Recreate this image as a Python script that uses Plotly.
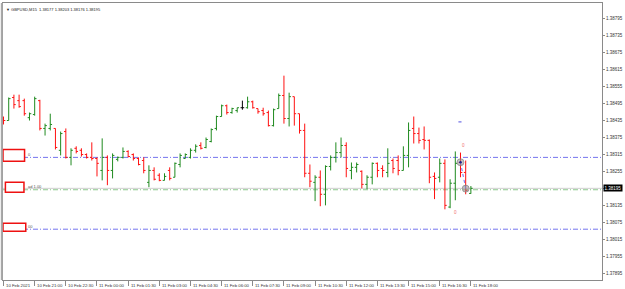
import plotly.graph_objects as go

# ---- data (GBPUSD M15, bars from 10 Feb 19:30 to 11 Feb 18:00) ----
opens = [1.38444, 1.38434, 1.38515, 1.38504, 1.38504, 1.38444, 1.38455, 1.38504, 1.38406, 1.38406,
         1.38406, 1.38329, 1.38395, 1.38304, 1.38336, 1.38329, 1.38314, 1.38304, 1.38300, 1.38258,
         1.38304, 1.38258, 1.38297, 1.38304, 1.38325, 1.38314, 1.38300, 1.38293, 1.38216, 1.38258,
         1.38241, 1.38223, 1.38258, 1.38234, 1.38279, 1.38300, 1.38304, 1.38329, 1.38346, 1.38339,
         1.38360, 1.38406, 1.38448, 1.38486, 1.38462, 1.38469, 1.38479, 1.38479, 1.38500, 1.38476,
         1.38469, 1.38462, 1.38416, 1.38476, 1.38522, 1.38441, 1.38518, 1.38458, 1.38399, 1.38248,
         1.38216, 1.38234, 1.38174, 1.38272, 1.38304, 1.38321, 1.38346, 1.38258, 1.38269, 1.38255,
         1.38209, 1.38234, 1.38283, 1.38265, 1.38251, 1.38293, 1.38293, 1.38258, 1.38311, 1.38406,
         1.38388, 1.38367, 1.38364, 1.38237, 1.38234, 1.38283, 1.38129, 1.38213, 1.38286, 1.38251,
         1.38177]
highs = [1.38448, 1.38515, 1.38525, 1.38525, 1.38511, 1.38462, 1.38518, 1.38507, 1.38423, 1.38458,
         1.38406, 1.38395, 1.38406, 1.38336, 1.38343, 1.38336, 1.38318, 1.38357, 1.38304, 1.38371,
         1.38311, 1.38318, 1.38307, 1.38339, 1.38329, 1.38318, 1.38304, 1.38304, 1.38276, 1.38269,
         1.38248, 1.38248, 1.38269, 1.38286, 1.38318, 1.38318, 1.38336, 1.38350, 1.38357, 1.38374,
         1.38406, 1.38451, 1.38490, 1.38490, 1.38479, 1.38479, 1.38504, 1.38518, 1.38504, 1.38476,
         1.38479, 1.38469, 1.38476, 1.38529, 1.38592, 1.38532, 1.38518, 1.38458, 1.38423, 1.38279,
         1.38241, 1.38258, 1.38276, 1.38311, 1.38357, 1.38374, 1.38357, 1.38286, 1.38286, 1.38258,
         1.38241, 1.38286, 1.38286, 1.38276, 1.38336, 1.38300, 1.38311, 1.38343, 1.38427, 1.38448,
         1.38409, 1.38413, 1.38367, 1.38251, 1.38300, 1.38297, 1.38227, 1.38325, 1.38321, 1.38293,
         1.38203]
lows = [1.38420, 1.38434, 1.38476, 1.38479, 1.38451, 1.38434, 1.38451, 1.38399, 1.38381, 1.38399,
        1.38332, 1.38311, 1.38300, 1.38276, 1.38318, 1.38307, 1.38300, 1.38293, 1.38237, 1.38223,
        1.38206, 1.38230, 1.38290, 1.38300, 1.38304, 1.38293, 1.38276, 1.38248, 1.38199, 1.38223,
        1.38220, 1.38223, 1.38223, 1.38234, 1.38269, 1.38300, 1.38300, 1.38321, 1.38332, 1.38336,
        1.38357, 1.38399, 1.38448, 1.38455, 1.38458, 1.38462, 1.38472, 1.38476, 1.38476, 1.38458,
        1.38451, 1.38413, 1.38413, 1.38476, 1.38423, 1.38413, 1.38416, 1.38388, 1.38234, 1.38199,
        1.38150, 1.38132, 1.38135, 1.38258, 1.38286, 1.38304, 1.38234, 1.38227, 1.38251, 1.38195,
        1.38192, 1.38209, 1.38234, 1.38234, 1.38234, 1.38248, 1.38241, 1.38258, 1.38269, 1.38353,
        1.38353, 1.38332, 1.38213, 1.38157, 1.38216, 1.38121, 1.38125, 1.38153, 1.38234, 1.38174,
        1.38176]
closes = [1.38434, 1.38511, 1.38490, 1.38483, 1.38458, 1.38458, 1.38511, 1.38406, 1.38416, 1.38420,
          1.38339, 1.38388, 1.38304, 1.38329, 1.38325, 1.38314, 1.38304, 1.38300, 1.38283, 1.38304,
          1.38258, 1.38311, 1.38304, 1.38325, 1.38307, 1.38300, 1.38279, 1.38258, 1.38258, 1.38227,
          1.38223, 1.38237, 1.38230, 1.38283, 1.38311, 1.38314, 1.38329, 1.38343, 1.38336, 1.38367,
          1.38402, 1.38448, 1.38486, 1.38462, 1.38476, 1.38479, 1.38479, 1.38500, 1.38479, 1.38465,
          1.38458, 1.38416, 1.38472, 1.38522, 1.38441, 1.38518, 1.38458, 1.38399, 1.38248, 1.38220,
          1.38234, 1.38174, 1.38272, 1.38304, 1.38321, 1.38346, 1.38265, 1.38269, 1.38279, 1.38209,
          1.38234, 1.38283, 1.38258, 1.38258, 1.38283, 1.38265, 1.38258, 1.38311, 1.38399, 1.38388,
          1.38364, 1.38364, 1.38234, 1.38230, 1.38283, 1.38135, 1.38213, 1.38283, 1.38251, 1.38188,
          1.38195]

time_tick_index = [0, 6, 12, 18, 24, 30, 36, 42, 48, 54, 60, 66, 72, 78, 84, 90]
time_tick_text = ["10 Feb 2021", "10 Feb 21:00", "10 Feb 22:30", "11 Feb 00:00", "11 Feb 01:30",
                  "11 Feb 03:00", "11 Feb 04:30", "11 Feb 06:00", "11 Feb 07:30", "11 Feb 09:00",
                  "11 Feb 10:30", "11 Feb 12:00", "11 Feb 13:30", "11 Feb 15:00", "11 Feb 16:30",
                  "11 Feb 18:00"]
price_ticks = [1.37895, 1.37955, 1.38015, 1.38075, 1.38135, 1.38195, 1.38255, 1.38315,
               1.38375, 1.38435, 1.38495, 1.38555, 1.38615, 1.38675, 1.38735, 1.38795]
price_tick_text = ["1.37895", "1.37955", "1.38015", "1.38075", "1.38135", "", "1.38255", "1.38315",
                   "1.38375", "1.38435", "1.38495", "1.38555", "1.38615", "1.38675", "1.38735", "1.38795"]

title_text = "GBPUSD,M15  1.38177 1.38203 1.38176 1.38195"
bid_price = 1.38195
level_prices = [1.38304, 1.38190, 1.38051]
level_labels = ["0", "ad 1.00", "00"]
trade_x = [88, 89]
trade_price = [1.38287, 1.38194]

FONT = "Liberation Sans"
n = len(opens)
xs = list(range(n))
norm = [i for i in xs if opens[i] != closes[i]]
doji = [i for i in xs if opens[i] == closes[i]]

fig = go.Figure()
fig.add_trace(go.Ohlc(
    x=norm, open=[opens[i] for i in norm], high=[highs[i] for i in norm],
    low=[lows[i] for i in norm], close=[closes[i] for i in norm],
    increasing=dict(line=dict(color="#1f8a1f", width=1)),
    decreasing=dict(line=dict(color="#ff1010", width=1)),
    tickwidth=0.35, hoverinfo="skip", showlegend=False))
fig.add_trace(go.Ohlc(
    x=doji, open=[opens[i] for i in doji], high=[highs[i] for i in doji],
    low=[lows[i] for i in doji], close=[closes[i] for i in doji],
    increasing=dict(line=dict(color="#000000", width=1)),
    decreasing=dict(line=dict(color="#000000", width=1)),
    tickwidth=0.35, hoverinfo="skip", showlegend=False))

# trade markers
fig.add_trace(go.Scatter(x=trade_x, y=trade_price, mode="lines",
                         line=dict(color="#6c6cf0", width=1, dash="dot"),
                         hoverinfo="skip", showlegend=False))
fig.add_trace(go.Scatter(x=trade_x, y=trade_price, mode="markers",
                         marker=dict(size=7, color="rgba(150,150,150,0.55)",
                                     line=dict(color="rgba(120,120,120,0.6)", width=1)),
                         hoverinfo="skip", showlegend=False))
fig.add_trace(go.Scatter(x=trade_x[:1], y=trade_price[:1], mode="markers",
                         marker=dict(size=2.5, color="#20208a"),
                         hoverinfo="skip", showlegend=False))

shapes = []
# bid line
shapes.append(dict(type="line", xref="paper", x0=0, x1=1, yref="y", y0=bid_price, y1=bid_price,
                   line=dict(color="#cfcfcf", width=1), layer="below"))
level_colors = ["#7474ee", "#8cc88c", "#7474ee"]
for lp, lc in zip(level_prices, level_colors):
    shapes.append(dict(type="line", xref="paper", x0=0, x1=1, yref="y", y0=lp, y1=lp,
                       line=dict(color=lc, width=1, dash="5px,2px,1px,2px"), layer="below"))
# red label boxes at left
boxes = [(0.0, 0.036, 1.38290, 1.38332), (0.004, 0.035, 1.38181, 1.38216), (0.0, 0.038, 1.38044, 1.38072)]
for bx0, bx1, by0, by1 in boxes:
    shapes.append(dict(type="rect", xref="paper", x0=bx0, x1=bx1, yref="y", y0=by0, y1=by1,
                       line=dict(color="#ee1111", width=1.5), fillcolor="white", layer="above"))
# small blue dash near the last bars
shapes.append(dict(type="line", xref="x", x0=87.6, x1=88.2, yref="y", y0=1.38429, y1=1.38429,
                   line=dict(color="#5050e0", width=1)))
# left grey strip
shapes.append(dict(type="line", xref="paper", x0=-0.002, x1=-0.002, yref="paper", y0=0, y1=1,
                   line=dict(color="#a8a8a8", width=2)))

annotations = []
for ti, tt in zip(time_tick_index, time_tick_text):
    annotations.append(dict(x=ti, y=0, xref="x", yref="paper", text=tt, showarrow=False,
                            xanchor="left", yanchor="top", xshift=0.5, yshift=-0.5,
                            font=dict(family=FONT, size=4.3, color="#333333")))
for lp, lt in zip(level_prices, level_labels):
    annotations.append(dict(x=0.038, y=lp, xref="paper", yref="y", text=lt, showarrow=False,
                            xanchor="left", yanchor="bottom", yshift=-1.5,
                            font=dict(family=FONT, size=4, color="#555555")))
annotations.append(dict(x=0, y=1, xref="paper", yref="paper", text="\u25bc " + title_text,
                        showarrow=False, xanchor="left", yanchor="top", xshift=1, yshift=-1.5,
                        font=dict(family=FONT, size=4, color="#222222")))
annotations.append(dict(x=1, y=bid_price, xref="paper", yref="y", text="1.38195", showarrow=False,
                        xanchor="left", yanchor="middle", xshift=0.5, bgcolor="#000000",
                        borderpad=0.6, font=dict(family=FONT, size=4.5, color="#ffffff")))
annotations.append(dict(x=88.6, y=1.38345, xref="x", yref="y", text="0", showarrow=False,
                        font=dict(family=FONT, size=4.5, color="#f07070")))
annotations.append(dict(x=87.1, y=1.38110, xref="x", yref="y", text="0", showarrow=False,
                        font=dict(family=FONT, size=4.5, color="#f07070")))

fig.update_layout(
    width=625, height=289,
    margin=dict(l=2, r=22, t=2, b=9, pad=0),
    paper_bgcolor="white", plot_bgcolor="white",
    shapes=shapes, annotations=annotations,
    xaxis=dict(range=[-0.1, 115.25], rangeslider=dict(visible=False), showgrid=False,
               zeroline=False, showline=True, mirror=True, linecolor="#8a8a8a", linewidth=1,
               tickvals=time_tick_index, ticks="outside", ticklen=5, tickcolor="#8a8a8a",
               showticklabels=False),
    yaxis=dict(range=[1.37872, 1.38848], side="right", showgrid=False, zeroline=False,
               showline=True, mirror=True, linecolor="#8a8a8a", linewidth=1,
               tickvals=price_ticks, ticktext=price_tick_text, ticks="outside", ticklen=2,
               tickcolor="#8a8a8a", tickfont=dict(family=FONT, size=4.5, color="#333333")),
)

fig.write_html("out.html")
